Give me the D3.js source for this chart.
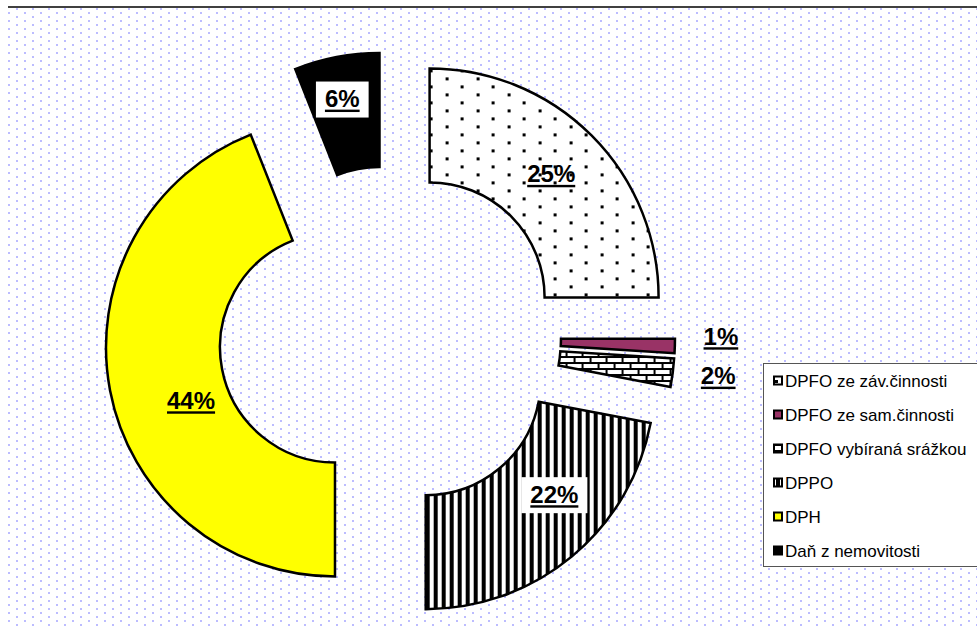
<!DOCTYPE html>
<html>
<head>
<meta charset="utf-8">
<script src="https://cdn.jsdelivr.net/npm/d3@7"></script>
<style>
  html, body { margin: 0; padding: 0; background: #fff; }
  svg { display: block; }
</style>
</head>
<body>
<svg id="chart" width="977" height="627"></svg>
<script>
// ---- data ----
const categories = ["DPFO ze záv.činnosti", "DPFO ze sam.činnosti", "DPFO vybíraná srážkou", "DPPO", "DPH", "Daň z nemovitosti"];
const shares = [25, 1, 2, 22, 44, 6];
const labelTexts = ["25%", "1%", "2%", "22%", "44%", "6%"];

// ---- layout / style ----
const W = 977, H = 627;
const center = { x: 390, y: 337 };
const explode = 56;
const innerR = 115, outerR = 229;
const fills = ["url(#pDots)", "#993366", "url(#pBrick)", "url(#pStripes)", "#ffff00", "#000000"];
const labelNudge = [[0, -2], [103, -8], [102, 10], [19, -18.5], [25, 20.5], [-5, -14.5]];
const labelBox = [false, false, false, true, false, true];

const svg = d3.select("#chart");
const defs = svg.append("defs");

// background dotted pattern
const pBg = defs.append("pattern").attr("id", "pBg").attr("patternUnits", "userSpaceOnUse")
  .attr("width", 16).attr("height", 8);
pBg.append("rect").attr("width", 16).attr("height", 8).attr("fill", "#fff");
pBg.append("rect").attr("x", 0).attr("y", 0).attr("width", 2).attr("height", 2).attr("fill", "#bcbcff");
pBg.append("rect").attr("x", 8).attr("y", 4).attr("width", 2).attr("height", 2).attr("fill", "#bcbcff");

// dots pattern for slice 1
const pDots = defs.append("pattern").attr("id", "pDots").attr("patternUnits", "userSpaceOnUse")
  .attr("width", 31).attr("height", 16);
pDots.append("rect").attr("width", 31).attr("height", 16).attr("fill", "#fff");
pDots.append("rect").attr("x", 0).attr("y", 12).attr("width", 3).attr("height", 3).attr("fill", "#000");
pDots.append("rect").attr("x", 16).attr("y", 4).attr("width", 3).attr("height", 3).attr("fill", "#000");

// brick pattern
const pBrick = defs.append("pattern").attr("id", "pBrick").attr("patternUnits", "userSpaceOnUse")
  .attr("width", 16).attr("height", 12);
pBrick.append("rect").attr("width", 16).attr("height", 12).attr("fill", "#fff");
pBrick.append("rect").attr("x", 0).attr("y", 0).attr("width", 16).attr("height", 2).attr("fill", "#000");
pBrick.append("rect").attr("x", 0).attr("y", 6).attr("width", 16).attr("height", 2).attr("fill", "#000");
pBrick.append("rect").attr("x", 0).attr("y", 0).attr("width", 2).attr("height", 6).attr("fill", "#000");
pBrick.append("rect").attr("x", 8).attr("y", 6).attr("width", 2).attr("height", 6).attr("fill", "#000");

// vertical stripes
const pStr = defs.append("pattern").attr("id", "pStripes").attr("patternUnits", "userSpaceOnUse")
  .attr("width", 8).attr("height", 8);
pStr.append("rect").attr("width", 8).attr("height", 8).attr("fill", "#fff");
pStr.append("rect").attr("x", 0).attr("y", 0).attr("width", 4).attr("height", 8).attr("fill", "#000");

// background
svg.append("rect").attr("x", 8).attr("y", 7).attr("width", W - 8).attr("height", H - 7).attr("fill", "url(#pBg)");
svg.append("line").attr("x1", 8).attr("x2", W).attr("y1", 7).attr("y2", 7)
  .attr("stroke", "#404040").attr("stroke-width", 2);

// pie
const pie = d3.pie().sort(null).value(d => d).startAngle(0).endAngle(2 * Math.PI);
const arcs = pie(shares);
const arc = d3.arc().innerRadius(innerR).outerRadius(outerR);

function offsetOf(a) {
  const mid = (a.startAngle + a.endAngle) / 2;
  return [center.x + explode * Math.sin(mid), center.y - explode * Math.cos(mid)];
}

const g = svg.append("g");
g.selectAll("path.slice").data(arcs).enter().append("path")
  .attr("class", "slice")
  .attr("transform", d => { const o = offsetOf(d); return `translate(${o[0]},${o[1]})`; })
  .attr("d", arc)
  .attr("fill", (d, i) => fills[i])
  .attr("stroke", "#000")
  .attr("stroke-width", 2.5)
  .attr("stroke-linejoin", "miter");

// labels
const fontSize = 24;
const capH = fontSize * 0.716;
arcs.forEach((a, i) => {
  const o = offsetOf(a);
  const c = arc.centroid(a);
  const x = o[0] + c[0] + labelNudge[i][0];
  const y = o[1] + c[1] + labelNudge[i][1];
  const lg = svg.append("g");
  const bg = lg.append("rect");
  const t = lg.append("text")
    .attr("x", x).attr("y", y + capH / 2)
    .attr("text-anchor", "middle")
    .attr("font-family", "Liberation Sans, Arial, sans-serif")
    .attr("font-weight", "bold")
    .attr("font-size", fontSize)
    .attr("fill", "#000")
    .text(labelTexts[i]);
  const bb = t.node().getBBox();
  // underline
  lg.append("rect").attr("x", bb.x).attr("y", y + capH / 2 + 2.5)
    .attr("width", bb.width).attr("height", 2.4).attr("fill", "#000");
  if (labelBox[i]) {
    const bw = bb.width + 18, bh = 36;
    bg.attr("x", x - bw / 2).attr("y", y - bh / 2 + 1).attr("width", bw).attr("height", bh).attr("fill", "#fff");
  } else {
    bg.remove();
  }
});

// legend
const legend = svg.append("g");
legend.append("rect").attr("x", 763.5).attr("y", 363.5).attr("width", 214).attr("height", 203)
  .attr("fill", "#fff").attr("stroke", "#555").attr("stroke-width", 1);
const rowY = d3.scalePoint().domain(categories).range([381, 551]);
categories.forEach((c, i) => {
  const cy = rowY(c);
  legend.append("rect").attr("x", 774).attr("y", cy - 4.5).attr("width", 8).attr("height", 8)
    .attr("fill", fills[i]).attr("stroke", "#000").attr("stroke-width", 2);
  legend.append("text").attr("x", 785).attr("y", cy + 6)
    .attr("font-family", "Liberation Sans, Arial, sans-serif")
    .attr("font-size", 17)
    .attr("fill", "#000")
    .text(c);
});
</script>
</body>
</html>
